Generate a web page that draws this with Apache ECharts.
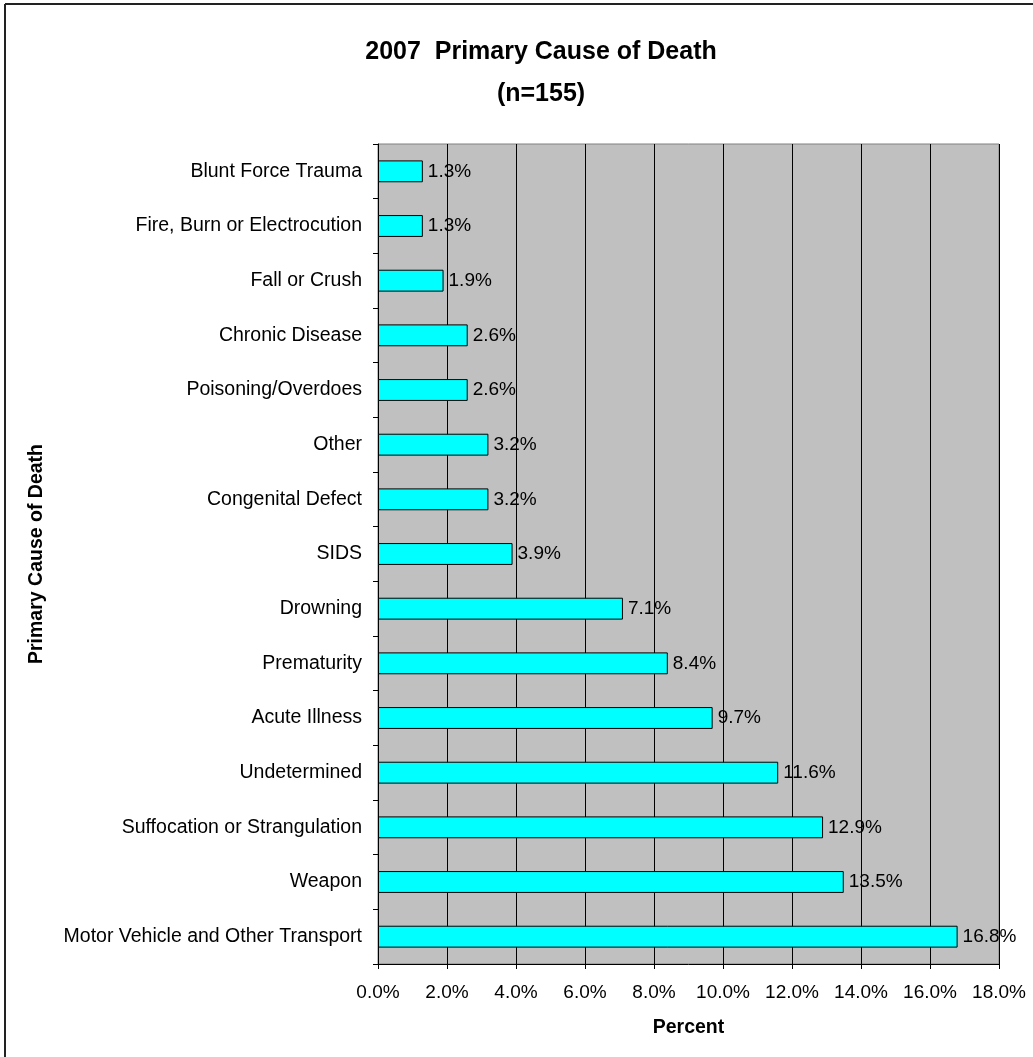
<!DOCTYPE html>
<html>
<head>
<meta charset="utf-8">
<script src="https://cdn.jsdelivr.net/npm/echarts@6/dist/echarts.min.js"></script>
<style>
  html, body { margin: 0; padding: 0; background: #fff; }
  #chart { width: 1033px; height: 1057px; }
</style>
</head>
<body>
<div id="chart"></div>
<script>
// categories, bottom to top (echarts draws the first category at the bottom)
var causes = [
  'Motor Vehicle and Other Transport',
  'Weapon',
  'Suffocation or Strangulation',
  'Undetermined',
  'Acute Illness',
  'Prematurity',
  'Drowning',
  'SIDS',
  'Congenital Defect',
  'Other',
  'Poisoning/Overdoes',
  'Chronic Disease',
  'Fall or Crush',
  'Fire, Burn or Electrocution',
  'Blunt Force Trauma'
]
var percents = [16.8, 13.5, 12.9, 11.6, 9.7, 8.4, 7.1, 3.9, 3.2, 3.2, 2.6, 2.6, 1.9, 1.3, 1.3]

var FONT = 'Liberation Sans, Arial, sans-serif'

var chart = echarts.init(document.getElementById('chart'))
chart.setOption({
  animation: false,
  backgroundColor: '#fff',
  textStyle: { fontFamily: FONT },
  title: {
    text: '2007  Primary Cause of Death\n(n=155)',
    left: 536,
    top: 26,
    textAlign: 'center',
    textStyle: {
      fontFamily: FONT,
      fontSize: 25,
      fontWeight: 'bold',
      color: '#000',
      lineHeight: 42
    }
  },
  graphic: [
    // outer frame (left and top edges only visible)
    { type: 'line', shape: { x1: 5, y1: 4, x2: 1033, y2: 4 }, style: { stroke: '#222', lineWidth: 2 } },
    { type: 'line', shape: { x1: 5, y1: 4, x2: 5, y2: 1057 }, style: { stroke: '#222', lineWidth: 2 } }
  ],
  grid: {
    left: 378,
    top: 144,
    width: 621,
    height: 820,
    show: true,
    backgroundColor: '#C0C0C0',
    borderColor: '#808080',
    borderWidth: 1
  },
  xAxis: {
    type: 'value',
    min: 0,
    max: 18,
    interval: 2,
    name: 'Percent',
    nameLocation: 'middle',
    nameGap: 54,
    nameTextStyle: { fontFamily: FONT, fontSize: 19.5, fontWeight: 'bold', color: '#000' },
    axisLine: { show: true, lineStyle: { color: '#000', width: 1 } },
    axisTick: { show: true, length: 5, lineStyle: { color: '#000' } },
    axisLabel: {
      margin: 19,
      fontFamily: FONT,
      fontSize: 19,
      color: '#000',
      formatter: function (v) { return v.toFixed(1) + '%' }
    },
    splitLine: { show: true, lineStyle: { color: '#000', width: 1 } }
  },
  yAxis: {
    type: 'category',
    data: causes,
    name: 'Primary Cause of Death',
    nameLocation: 'middle',
    nameGap: 331,
    nameTextStyle: { fontFamily: FONT, fontSize: 19.5, fontWeight: 'bold', color: '#000' },
    axisLine: { show: true, lineStyle: { color: '#000', width: 1 } },
    axisTick: { show: true, length: 5, lineStyle: { color: '#000' } },
    axisLabel: { margin: 16, fontFamily: FONT, fontSize: 19.5, color: '#000' },
    splitLine: { show: false }
  },
  series: [{
    type: 'bar',
    data: percents,
    barWidth: '40%',
    itemStyle: {
      color: '#00FFFF',
      borderColor: '#000',
      borderWidth: 1
    },
    label: {
      show: true,
      position: 'right',
      distance: 5,
      fontFamily: FONT,
      fontSize: 19,
      color: '#000',
      formatter: function (p) { return p.value.toFixed(1) + '%' }
    }
  }]
})
</script>
</body>
</html>
